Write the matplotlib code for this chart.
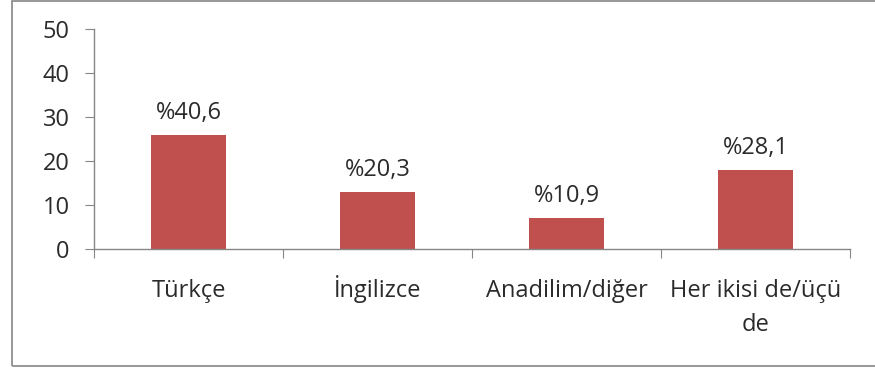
import matplotlib
matplotlib.use("Agg")
import matplotlib.pyplot as plt
from matplotlib.patches import Rectangle

categories = ["Türkçe", "İngilizce", "Anadilim/diğer", "Her ikisi de/üçü\nde"]
counts = [26, 13, 7, 18]
percent_labels = ["%40,6", "%20,3", "%10,9", "%28,1"]
yticks = [0, 10, 20, 30, 40, 50]

plt.rcParams["font.family"] = ["Open Sans", "DejaVu Sans"]
FS = 17
TEXT = "#2b2b2b"
AXIS = "#868686"

W, H = 875, 369
fig = plt.figure(figsize=(W / 100, H / 100), dpi=100)
fig.patch.set_facecolor("white")

# outer chart frame
fig.patches.append(Rectangle((12 / W, 3 / H), 1.0, 1 - 4 / H, transform=fig.transFigure,
                             fill=False, edgecolor=AXIS, linewidth=1.2))

ax = fig.add_axes([94 / W, 1 - 249 / H, (850 - 94) / W, (249 - 29) / H])
x = list(range(len(categories)))
ax.bar(x, counts, width=0.4, color="#C0504D", zorder=2)

ax.set_xlim(-0.5, len(categories) - 0.5)
ax.set_ylim(0, 50)
ax.set_yticks(yticks)
ax.set_yticklabels([str(t) for t in yticks], fontsize=FS, color=TEXT)

for s in ["top", "right"]:
    ax.spines[s].set_visible(False)
for s in ["left", "bottom"]:
    ax.spines[s].set_color(AXIS)
    ax.spines[s].set_linewidth(1.0)

ax.tick_params(axis="y", length=6.5, color=AXIS, pad=11)
# category separators on the x axis
ax.set_xticks([i - 0.5 for i in range(len(categories) + 1)])
ax.set_xticklabels([])
ax.tick_params(axis="x", length=6.5, color=AXIS, direction="out")

# category names, each line placed on its own baseline
LINE_STEP = 24.5
for xi, name in zip(x, categories):
    for k, line in enumerate(name.split("\n")):
        ax.annotate(line, (xi, 0), xycoords=("data", "axes fraction"),
                    xytext=(0, -34.5 - k * LINE_STEP), textcoords="offset points",
                    ha="center", va="baseline", fontsize=FS, color=TEXT,
                    annotation_clip=False)

for xi, v, t in zip(x, counts, percent_labels):
    ax.annotate(t, (xi, v), xytext=(0, 11.5), textcoords="offset points",
                ha="center", va="baseline", fontsize=FS, color=TEXT)

fig.savefig("out.png", dpi=100)
